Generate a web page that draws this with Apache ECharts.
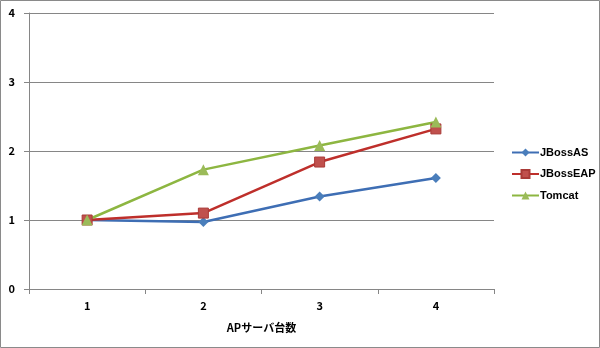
<!DOCTYPE html>
<html><head><meta charset="utf-8">
<script src="https://cdn.jsdelivr.net/npm/echarts@6/dist/echarts.min.js"></script>
<style>html,body{margin:0;padding:0;background:#fff}#c{width:600px;height:348px}</style>
</head><body><div id="c"></div>
<script>
const categories = ['1', '2', '3', '4'];
const jbossAS = [1.0, 0.97, 1.34, 1.61];
const jbossEAP = [1.0, 1.10, 1.84, 2.32];
const tomcat = [1.0, 1.73, 2.08, 2.42];
const xName = 'APサーバ台数';

const font = '"Noto Sans CJK JP", "Liberation Sans", sans-serif';
const chart = echarts.init(document.getElementById('c'), null, {renderer: 'canvas'});
chart.setOption({
  animation: false,
  backgroundColor: '#fff',
  textStyle: {fontFamily: font},
  graphic: [{type: 'rect', shape: {x: 0.5, y: 0.5, width: 599, height: 347}, style: {fill: 'none', stroke: '#8a8a8a', lineWidth: 1}, silent: true}],
  grid: {left: 29, right: 106, top: 13, bottom: 59},
  legend: {
    orient: 'vertical', left: 511, top: 147, padding: 0, itemGap: 10.5, itemWidth: 27, itemHeight: 10,
    textStyle: {fontSize: 11, fontWeight: 'bold', color: '#000', fontFamily: '"Liberation Sans", sans-serif', padding: [0, 0, 0, -4]},
    data: ['JBossAS', 'JBossEAP', 'Tomcat']
  },
  xAxis: {
    type: 'category', data: categories, boundaryGap: true,
    name: xName, nameLocation: 'middle', nameGap: 33,
    nameTextStyle: {fontSize: 11, fontWeight: 'bold', color: '#000'},
    axisLine: {lineStyle: {color: '#868686'}},
    axisTick: {show: true, alignWithLabel: false, length: 5, lineStyle: {color: '#868686'}},
    axisLabel: {fontSize: 11, fontWeight: 'bold', color: '#000', margin: 11}
  },
  yAxis: {
    type: 'value', min: 0, max: 4, interval: 1,
    axisLine: {show: true, lineStyle: {color: '#868686'}},
    axisTick: {show: true, length: 5, lineStyle: {color: '#868686'}},
    axisLabel: {fontSize: 11, fontWeight: 'bold', color: '#000', margin: 14},
    splitLine: {lineStyle: {color: '#868686'}}
  },
  series: [
    {name: 'JBossAS', type: 'line', data: jbossAS, symbol: 'diamond', symbolSize: 10,
     itemStyle: {color: '#4A7EBB'}, lineStyle: {width: 2.5, color: '#3E6EB4'}},
    {name: 'JBossEAP', type: 'line', data: jbossEAP, symbol: 'rect', symbolSize: 10,
     itemStyle: {color: '#C0504D', borderColor: '#A93A37', borderWidth: 1}, lineStyle: {width: 2.5, color: '#BE2F2B'}},
    {name: 'Tomcat', type: 'line', data: tomcat, symbol: 'triangle', symbolSize: 11,
     itemStyle: {color: '#9BBB59'}, lineStyle: {width: 2.5, color: '#8DB641'}}
  ]
});
</script></body></html>
